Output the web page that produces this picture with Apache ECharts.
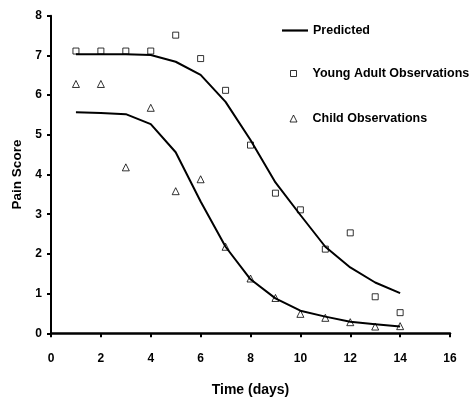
<!DOCTYPE html>
<html>
<head>
<meta charset="utf-8">
<script src="https://cdn.jsdelivr.net/npm/echarts@6/dist/echarts.min.js"></script>
<style>html,body{margin:0;padding:0;background:#fff;}#c{width:474px;height:398px;}</style>
</head>
<body>
<div id="c"></div>
<script>
var days = [1,2,3,4,5,6,7,8,9,10,11,12,13,14];
var adultObs = [7.11,7.11,7.11,7.11,7.51,6.92,6.12,4.74,3.53,3.11,2.12,2.53,0.92,0.52];
var childObs = [6.28,6.28,4.18,5.68,3.58,3.88,2.18,1.38,0.89,0.49,0.39,0.28,0.17,0.18];
var adultPred = [7.03,7.03,7.03,7.01,6.84,6.51,5.83,4.87,3.8,2.98,2.18,1.66,1.28,1.01];
var childPred = [5.57,5.55,5.52,5.27,4.56,3.32,2.18,1.36,0.88,0.57,0.42,0.29,0.23,0.17];
var xTicks = [0,2,4,6,8,10,12,14,16];
var yTicks = [0,1,2,3,4,5,6,7,8];

function pairs(xs, ys){ return xs.map(function(x,i){ return [x, ys[i]]; }); }

var FONT = 'Liberation Sans, Arial, sans-serif';
var chart = echarts.init(document.getElementById('c'), null, {renderer:'canvas'});
var hollow = {color:'rgba(0,0,0,0)', borderColor:'#000', borderWidth:1};
function lt(pad){ return {fontFamily:FONT, fontWeight:'bold', fontSize:12.5, color:'#000', padding:[0,0,0,pad]}; }
chart.setOption({
  animation:false,
  backgroundColor:'#fff',
  grid:{left:51, right:24, top:15.7, bottom:64.7, containLabel:false, outerBoundsMode:'none'},
  legend:[
    {data:[{name:'Predicted', icon:'rect', itemStyle:{color:'#000', borderWidth:0}}], left:277, top:19, itemWidth:26, itemHeight:2.2, textStyle:lt(0), selectedMode:false},
    {data:[{name:'Young Adult Observations', icon:'rect', itemStyle:hollow}], left:285, top:62, itemWidth:6, itemHeight:6, textStyle:lt(11), selectedMode:false},
    {data:[{name:'Child Observations', icon:'triangle', itemStyle:hollow}], left:284.5, top:107, itemWidth:7, itemHeight:7, textStyle:lt(10.5), selectedMode:false}
  ],
  xAxis:{
    type:'value', min:xTicks[0], max:xTicks[xTicks.length-1], interval:2,
    name:'Time (days)', nameLocation:'middle', nameGap:50,
    nameTextStyle:{fontFamily:FONT, fontWeight:'bold', fontSize:14, color:'#000'},
    axisLine:{show:true, onZero:false, lineStyle:{color:'#000', width:2.5}},
    axisTick:{show:true, inside:false, length:4, lineStyle:{color:'#000', width:2}},
    axisLabel:{margin:19.5, fontFamily:FONT, fontWeight:'bold', fontSize:12, color:'#000'},
    splitLine:{show:false}
  },
  yAxis:{
    type:'value', min:yTicks[0], max:yTicks[yTicks.length-1], interval:1,
    name:'Pain Score', nameLocation:'middle', nameGap:18,
    nameTextStyle:{fontFamily:FONT, fontWeight:'bold', fontSize:13.5, color:'#000'},
    axisLine:{show:true, onZero:false, lineStyle:{color:'#000', width:2}},
    axisTick:{show:true, inside:false, length:4, lineStyle:{color:'#000', width:2}},
    axisLabel:{margin:9, fontFamily:FONT, fontWeight:'bold', fontSize:12, color:'#000'},
    splitLine:{show:false}
  },
  series:[
    {name:'Predicted', type:'line', data:pairs(days, adultPred), symbol:'none', lineStyle:{color:'#000', width:2}, itemStyle:{color:'#000'}, z:2},
    {name:'Predicted', type:'line', data:pairs(days, childPred), symbol:'none', lineStyle:{color:'#000', width:2}, itemStyle:{color:'#000'}, z:2},
    {name:'Young Adult Observations', type:'scatter', data:pairs(days, adultObs), symbol:'rect', symbolSize:6, itemStyle:hollow, z:3},
    {name:'Child Observations', type:'scatter', data:pairs(days, childObs), symbol:'triangle', symbolSize:7, itemStyle:hollow, z:3}
  ]
});
</script>
</body>
</html>
